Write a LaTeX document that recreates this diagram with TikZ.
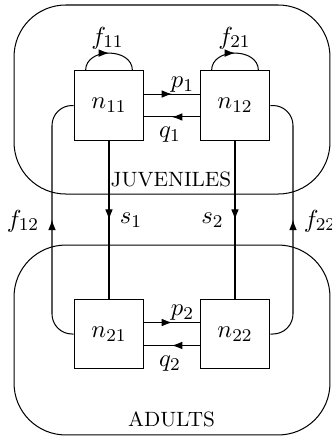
\documentclass[tikz,border=0pt]{standalone}
\usetikzlibrary{arrows.meta,decorations.markings}
\begin{document}
\begin{tikzpicture}[x=0.4444pt,y=-0.4444pt, line width=0.45pt,
  stock/.style={draw, minimum width=31.1pt, minimum height=30.7pt, inner sep=0pt,
    font=\fontsize{11.3}{13}\selectfont},
  group/.style={draw, rounded corners=23pt, inner sep=0pt},
  flow/.style={postaction={decorate},
    decoration={markings, mark=at position 0.5 with {\arrow{Latex[length=4.6pt,width=3.4pt]}}}},
  tag/.style={font=\fontsize{9.2}{11}\selectfont, inner sep=0pt},
  lab/.style={inner sep=0pt, font=\fontsize{11.3}{13}\selectfont}]
\useasboundingbox (0,0) rectangle (332,437);

% stage containers
\node[group, minimum width=140.4pt, minimum height=84pt] (juv) at (172,99.5) {};
\node[group, minimum width=140.4pt, minimum height=84.4pt] (adu) at (172,340) {};
\node[tag] (juvlab) at (171,179) {JUVENILES};
\node[tag] (adulab) at (171.5,419.5) {ADULTS};

% population compartments
\node[stock] (n11) at (109,105.5) {$n_{11}$};
\node[stock] (n12) at (235,105.5) {$n_{12}$};
\node[stock] (n21) at (109,334) {$n_{21}$};
\node[stock] (n22) at (235,334) {$n_{22}$};

% side lanes for the fecundity returns
\coordinate (lx) at (52,0);
\coordinate (rx) at (293,0);

% movement between patches
\draw[flow] ([yshift=5.1pt]n11.east) -- ([yshift=5.1pt]n12.west);
\draw[flow] ([yshift=-5.1pt]n12.west) -- ([yshift=-5.1pt]n11.east);
\draw[flow] ([yshift=5.1pt]n21.east) -- ([yshift=5.1pt]n22.west);
\draw[flow] ([yshift=-5.1pt]n22.west) -- ([yshift=-5.1pt]n21.east);
\node[lab] (p1) at (182.5,85) {$p_1$};
\node[lab] (q1) at (170,135) {$q_1$};
\node[lab] (p2) at (182.5,313) {$p_2$};
\node[lab] (q2) at (170,364) {$q_2$};

% juvenile self-recruitment loops
\draw[flow] ([xshift=-10.4pt]n11.north) .. controls +(0,10.3pt) and +(0,10.3pt) .. ([xshift=10.4pt]n11.north);
\draw[flow] ([xshift=-10.4pt]n12.north) .. controls +(0,10.3pt) and +(0,10.3pt) .. ([xshift=10.4pt]n12.north);
\node[lab] (f11) at (107.5,38) {$f_{11}$};
\node[lab] (f21) at (234.5,38) {$f_{21}$};

% survival to adulthood
\draw[flow] (n11.south) -- (n21.north);
\draw[flow] (n12.south) -- (n22.north);
\node[lab] (s1) at (131,220) {$s_1$};
\node[lab] (s2) at (212.5,220) {$s_2$};

% adult fecundity back to juveniles
\draw[flow, rounded corners=8.9pt] (n21.west) -- (n21.west -| lx) -- (n11.west -| lx) -- (n11.west);
\draw[flow, rounded corners=8.9pt] (n22.east) -- (n22.east -| rx) -- (n12.east -| rx) -- (n12.east);
\node[lab] (f12) at (23,221) {$f_{12}$};
\node[lab] (f22) at (320,221) {$f_{22}$};
\end{tikzpicture}
\end{document}
